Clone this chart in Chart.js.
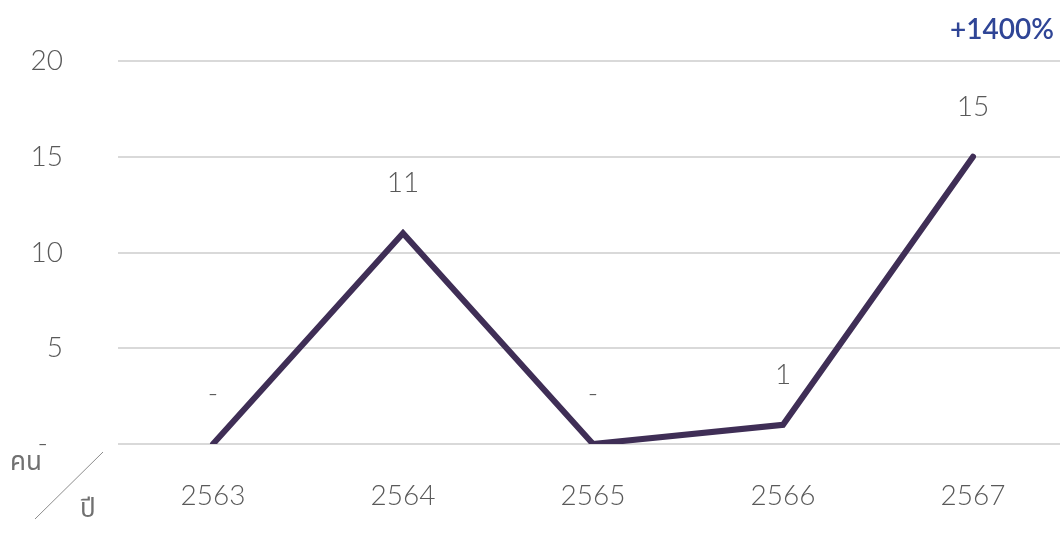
<!DOCTYPE html>
<html>
<head>
<meta charset="utf-8">
<script src="https://cdn.jsdelivr.net/npm/chart.js@4/dist/chart.umd.min.js"></script>
<style>
  html, body { margin: 0; padding: 0; background: #fff; overflow: hidden; }
  #wrap { width: 1068px; height: 534px; position: relative; }
</style>
</head>
<body>
<div id="wrap"><canvas id="chart"></canvas></div>
<script>
// ข้อมูลจำนวนคนต่อปี
const years = ['2563', '2564', '2565', '2566', '2567'];
const people = [0, 11, 0, 1, 15];
const yTicks = [0, 5, 10, 15, 20];
const growthLabel = '+1400%';

const FONT = "'Lato', 'Noto Sans', sans-serif";
const GREY = '#595959';

// ป้ายค่าเหนือจุด + ข้อความประกอบ
const extras = {
  id: 'extras',
  afterDatasetsDraw(chart) {
    const ctx = chart.ctx;
    const meta = chart.getDatasetMeta(0);
    ctx.save();
    ctx.font = '300 28px ' + FONT;
    ctx.fillStyle = GREY;
    ctx.textAlign = 'center';
    ctx.textBaseline = 'middle';
    meta.data.forEach((pt, i) => {
      const v = people[i];
      ctx.fillText(v === 0 ? '-' : String(v), pt.x, pt.y - 50);
    });

    // +1400%
    ctx.font = '600 28px "Comic Sans MS", ' + FONT;
    ctx.fillStyle = '#2f4596';
    ctx.textAlign = 'right';
    ctx.fillText(growthLabel, 1054, 30);

    // คน / ปี
    ctx.font = '26px "Noto Sans Thai", "Noto Sans", sans-serif';
    ctx.fillStyle = '#707070';
    ctx.textAlign = 'left';
    ctx.fillText('คน', 10, 465);
    ctx.fillText('ปี', 80, 512);
    ctx.strokeStyle = '#8c8c8c';
    ctx.lineWidth = 1;
    ctx.beginPath();
    ctx.moveTo(35, 519);
    ctx.lineTo(103, 452);
    ctx.stroke();
    ctx.restore();
  }
};

new Chart(document.getElementById('chart'), {
  type: 'line',
  data: {
    labels: years,
    datasets: [{
      data: people,
      borderColor: '#3f2e56',
      borderWidth: 6,
      pointRadius: 0,
      tension: 0,
      borderCapStyle: 'round',
      borderJoinStyle: 'miter'
    }]
  },
  options: {
    responsive: true,
    maintainAspectRatio: false,
    animation: false,
    layout: { padding: { left: 0, top: 61, right: 0, bottom: 0 } },
    plugins: { legend: { display: false }, tooltip: { enabled: false } },
    scales: {
      x: {
        offset: true,
        afterFit(axis) { axis.height = 90; axis.paddingLeft = 0; axis.paddingRight = 0; },
        grid: { display: false },
        border: { display: false },
        ticks: { color: GREY, font: { family: FONT, size: 28, weight: 300 }, padding: 27 }
      },
      y: {
        min: 0,
        max: 20,
        afterFit(axis) { axis.width = 118; axis.paddingTop = 0; axis.paddingBottom = 0; },
        afterBuildTicks(axis) { axis.ticks = yTicks.map(v => ({ value: v })); },
        grid: { color: '#d9d9d9', lineWidth: 2, drawTicks: false },
        border: { display: false },
        ticks: {
          color: GREY,
          font: { family: FONT, size: 28, weight: 300 },
          padding: 55,
          callback: v => v === 0 ? '-  ' : String(v)
        }
      }
    }
  },
  plugins: [extras]
});
</script>
</body>
</html>
